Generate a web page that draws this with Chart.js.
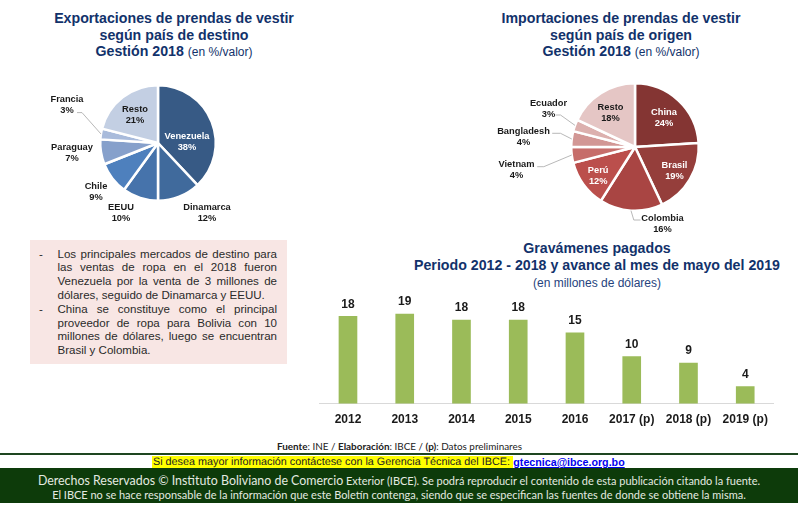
<!DOCTYPE html>
<html><head><meta charset="utf-8">
<script src="https://cdn.jsdelivr.net/npm/chart.js@4/dist/chart.umd.min.js"></script>
<style>
html,body{margin:0;padding:0;background:#fff;width:798px;height:508px;overflow:hidden;font-family:"Liberation Sans",Arial,sans-serif}
.abs{position:absolute}
canvas{position:absolute}
.title{position:absolute;text-align:center;color:#12326b;font-weight:bold;font-size:14.2px;line-height:16.5px;white-space:nowrap}
.title span{font-weight:normal;font-size:12px}
#note{left:30px;top:240px;width:257px;height:124px;background:#f8e6e4}
.nl{position:absolute;left:57.5px;width:219.5px;font-size:11.55px;color:#2a2a2a;line-height:13px;height:13px;white-space:nowrap;text-align:justify;text-align-last:justify}
.nl.last{text-align-last:left}
.dash{position:absolute;left:39px;font-size:11.55px;line-height:13px;color:#2a2a2a}
.foot{position:absolute;left:0;width:798px;text-align:center;font-family:Lato,sans-serif;white-space:nowrap}
</style></head><body>
<div class="title" style="left:21px;top:10px;width:306px">Exportaciones de prendas de vestir<br>según país de destino<br>Gestión 2018 <span>(en %/valor)</span></div>
<div class="title" style="left:451px;top:10px;width:340px">Importaciones de prendas de vestir<br>según país de origen<br>Gestión 2018 <span>(en %/valor)</span></div>
<canvas id="pieA" style="left:38px;top:58px;width:240px;height:170px"></canvas>
<canvas id="pieB" style="left:489.5px;top:61px;width:290px;height:172px"></canvas>
<div class="abs" id="note"></div>
<div id="noteText"></div>
<div class="title" style="left:354px;top:240px;width:486px;line-height:17px">Gravámenes pagados<br>Periodo 2012 - 2018 y avance al mes de mayo del 2019<br><span style="line-height:15px;color:#26437d">(en millones de dólares)</span></div>
<canvas id="bars" style="left:312px;top:290px;width:470px;height:146px"></canvas>
<div class="foot" style="top:440px;font-size:9.9px;line-height:13px;color:#222;left:0.5px"><b>Fuente</b>: INE / <b>Elaboración</b>: IBCE / <b>(p)</b>: Datos preliminares</div>
<div class="abs" style="left:0;width:798px;top:453px;height:1.5px;background:#1e4620"></div>
<div class="abs" style="left:152px;top:455.5px;width:360.5px;height:13px;background:#ffff00"></div>
<div class="abs" style="left:153px;top:456px;font-size:10.8px;line-height:13px;white-space:nowrap;color:#222;text-rendering:geometricPrecision">Si desea mayor información contáctese con la Gerencia Técnica del IBCE:</div>
<div class="abs" style="left:513.3px;top:456px;font-size:10.7px;line-height:13px;font-weight:bold;color:#0000ee;text-decoration:underline;white-space:nowrap">gtecnica@ibce.org.bo</div>
<div class="abs" style="left:0;top:468px;width:798px;height:35px;background:#0d3b0a"></div>
<div class="foot" style="top:472.5px;color:#e4eae0;font-size:10.98px;line-height:15px"><span style="font-size:12.4px">Derechos Reservados © Instituto Boliviano de Comercio</span> Exterior (IBCE). Se podrá reproducir el contenido de esta publicación citando la fuente.</div>
<div class="foot" style="top:487px;color:#e4eae0;font-size:10.98px;line-height:15px">El IBCE no se hace responsable de la información que este Boletín contenga, siendo que se especifican las fuentes de donde se obtiene la misma.</div>
<script>
const exportCountries=["Venezuela","Dinamarca","EEUU","Chile","Paraguay","Francia","Resto"];
const exportShares=[38,12,10,9,7,3,21];
const exportColors=["#375a85","#406a9c","#4673ab","#4e80bd","#86a0cb","#a9bbdb","#c3cfe3"];
const importCountries=["China","Brasil","Colombia","Perú","Vietnam","Bangladesh","Ecuador","Resto"];
const importShares=[24,19,16,12,4,4,3,18];
const importColors=["#843533","#953e3b","#a94543","#bb4f4c","#c66d6a","#d29795","#dcb0ae","#e5c6c5"];
const dutyYears=["2012","2013","2014","2015","2016","2017 (p)","2018 (p)","2019 (p)"];
const dutyValues=[18.5,19,17.7,17.7,15,10,8.6,3.6];
const dutyLabels=["18","19","18","18","15","10","9","4"];
const noteLines=[
 ["Los principales mercados de destino para",0,1],
 ["las ventas de ropa en el 2018 fueron",0,0],
 ["Venezuela por la venta de 3 millones de",0,0],
 ["dólares, seguido de Dinamarca y EEUU.",1,0],
 ["China se constituye como el principal",0,1],
 ["proveedor de ropa para Bolivia con 10",0,0],
 ["millones de dólares, luego se encuentran",0,0],
 ["Brasil y Colombia.",1,0]];
const nt=document.getElementById('noteText');
noteLines.forEach((l,i)=>{const y=247.5+i*13.8;
 const d=document.createElement('div');d.className='nl'+(l[1]?' last':'');d.style.top=y+'px';d.textContent=l[0];nt.appendChild(d);
 if(l[2]){const b=document.createElement('div');b.className='dash';b.style.top=y+'px';b.textContent='-';nt.appendChild(b);}
});
Chart.defaults.font.family='"Liberation Sans",Arial,sans-serif';
// label centres relative to pie centre (dx, dy)
const exportLabelOffsets=[[29,-1.5],[49,69.5],[-37,69.5],[-62,48.5],[-86,9.5],[-91,-38.5],[-23,-28.5]];
const importLabelOffsets=[[29,-28.6],[39.5,23.5],[27.5,76.5],[-36.8,28.5],[-118.5,22.5],[-111.5,-10.5],[-86.5,-38.5],[-24.5,-34.5]];
const exportLeaders={5:[[-76,-30.4],[-81,-30.4]]};
const importLeaders={2:[[-1.2,73],[5.5,73]],4:[[-91.2,19.7],[-97.8,19.7]],5:[[-74.5,-13.7],[-82.8,-13.7]],6:[[-74.5,-32],[-79.5,-32]]};
const pieLabels={id:'pieLabels',afterDatasetsDraw(c,a,o){
 const ctx=c.ctx,arcs=c.getDatasetMeta(0).data;const cx=arcs[0].x,cy=arcs[0].y;
 ctx.save();
 ctx.strokeStyle='#a6a6a6';ctx.lineWidth=0.8;
 Object.keys(o.leaders).forEach(k=>{const arc=arcs[k];const m=(arc.startAngle+arc.endAngle)/2;
   ctx.beginPath();ctx.moveTo(cx+Math.cos(m)*arc.outerRadius,cy+Math.sin(m)*arc.outerRadius);
   o.leaders[k].forEach(p=>ctx.lineTo(cx+p[0],cy+p[1]));ctx.stroke();});
 ctx.font='bold 9.3px "Liberation Sans",Arial,sans-serif';ctx.textAlign='center';ctx.textBaseline='middle';
 c.data.labels.forEach((lab,i)=>{const p=o.offsets[i];
   ctx.fillStyle=o.light.includes(i)?'#ffffff':'#1a1a1a';
   ctx.fillText(lab,cx+p[0],cy+p[1]-5.5);
   ctx.fillText(c.data.datasets[0].data[i]+'%',cx+p[0],cy+p[1]+5.5);});
 ctx.restore();}};
function pie(id,labels,data,colors,pad,offsets,leaders,light){
 return new Chart(document.getElementById(id),{type:'pie',
  data:{labels,datasets:[{data,backgroundColor:colors,borderColor:'#fff',borderWidth:2.5}]},
  options:{responsive:false,animation:false,layout:{padding:pad},
   plugins:{legend:{display:false},tooltip:{enabled:false},pieLabels:{offsets,leaders,light}}},
  plugins:[pieLabels]});}
function size(id){const c=document.getElementById(id);c.width=parseInt(c.style.width);c.height=parseInt(c.style.height);}
['pieA','pieB','bars'].forEach(size);
pie('pieA',exportCountries,exportShares,exportColors,{left:61,right:61,top:26,bottom:26},exportLabelOffsets,exportLeaders,[0]);
pie('pieB',importCountries,importShares,importColors,{left:80,right:80,top:21,bottom:21},importLabelOffsets,importLeaders,[0,1,3]);
const barLabels={id:'barLabels',afterDatasetsDraw(c){
 const ctx=c.ctx;ctx.save();ctx.font='bold 12px "Liberation Sans",Arial,sans-serif';ctx.fillStyle='#1a1a1a';ctx.textAlign='center';ctx.textBaseline='middle';
 c.getDatasetMeta(0).data.forEach((b,i)=>ctx.fillText(dutyLabels[i],b.x,b.y-12));ctx.restore();}};
new Chart(document.getElementById('bars'),{type:'bar',
 data:{labels:dutyYears,datasets:[{data:dutyValues,backgroundColor:'#9bbb59',barThickness:18}]},
 options:{responsive:false,animation:false,layout:{padding:{left:7.6,right:8.4,top:0,bottom:0}},
  plugins:{legend:{display:false},tooltip:{enabled:false}},
  scales:{x:{grid:{display:false,drawTicks:false},border:{color:'#d9d9d9'},ticks:{color:'#1a1a1a',padding:9,maxRotation:0,font:{size:12,weight:'bold'}}},
   y:{display:false,min:0,max:24.1}}},
 plugins:[barLabels]});
</script></body></html>
